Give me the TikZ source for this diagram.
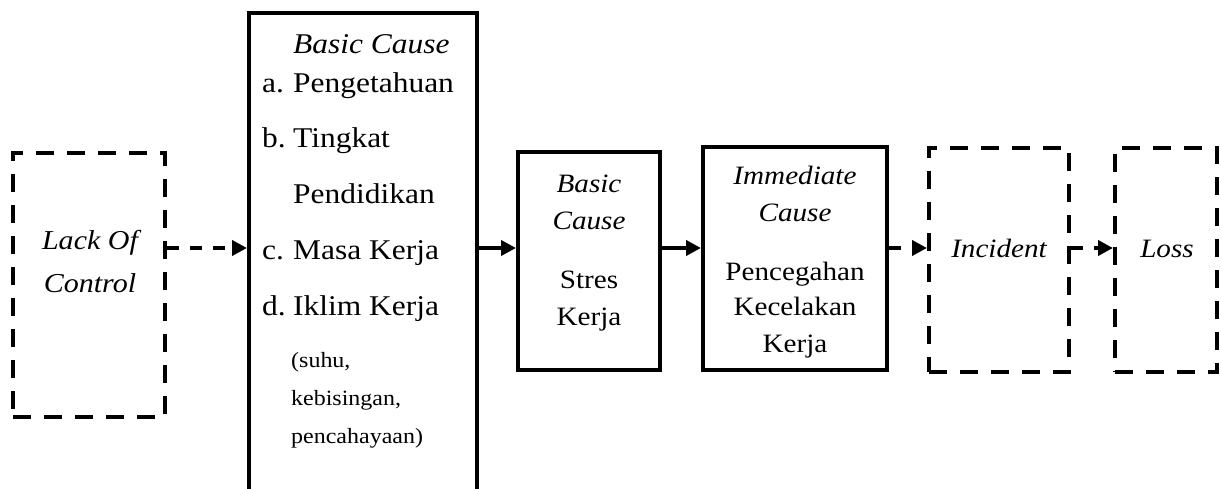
\documentclass[tikz,border=0pt]{standalone}
\usepackage{fontspec}
\setmainfont{Liberation Serif}[FakeStretch=1.1]
\usetikzlibrary{arrows.meta}
\begin{document}
\begin{tikzpicture}[x=1pt,y=-1pt,
  box/.style={draw, line width=4pt, inner sep=0pt, rectangle},
  dbox/.style={box, dash pattern=on 18pt off 13pt},
  txt/.style={anchor=base, inner sep=0pt, font=\fontsize{26.5}{32}\selectfont},
  itxt/.style={txt, font=\fontsize{26.5}{32}\selectfont\itshape},
  btxt/.style={anchor=base west, inner sep=0pt, font=\fontsize{28.6}{34}\selectfont},
  bitxt/.style={btxt, font=\fontsize{28.6}{34}\selectfont\itshape},
  small/.style={anchor=base west, inner sep=0pt, font=\fontsize{21.8}{26}\selectfont},
  ltxt/.style={itxt, font=\fontsize{27.3}{32}\selectfont\itshape},
  link/.style={line width=4pt, -{Triangle[length=15pt,width=15pt]}},
  dlink/.style={link, dash pattern=on 12pt off 11pt}]
\fill[white] (0,0) rectangle (1221,489);
\useasboundingbox (0,0) rectangle (1221,489);
\clip (0,0) rectangle (1221,489);

% boxes
\node[dbox, minimum width=152pt, minimum height=264pt] (lack) at (89,285) {};
\node[box, minimum width=228pt, minimum height=507pt] (basic) at (363,266.5) {};
\node[box, minimum width=142pt, minimum height=218pt] (stres) at (589,261) {};
\node[box, minimum width=184pt, minimum height=223pt] (imm) at (795,258.5) {};
\node[dbox, minimum width=140pt, minimum height=224pt] (inc) at (999,260) {};
\node[dbox, minimum width=102pt, minimum height=224pt] (loss) at (1166,260) {};

% level of the connectors
\coordinate (row) at (0,248);

% Lack Of Control
\node[ltxt] (lackA) at (90,250) {Lack Of};
\node[ltxt] (lackB) at (90,292) {Control};

% Basic Cause (factors)
\node[bitxt] (bcT) at (293,54) {Basic Cause};
\node[btxt] (ia) at (262,93) {a.};
\node[btxt] (ta) at (293,93) {Pengetahuan};
\node[btxt] (ib) at (262,148) {b.};
\node[btxt] (tb) at (293,148) {Tingkat};
\node[btxt] (tb2) at (293,204) {Pendidikan};
\node[btxt] (ic) at (262,259) {c.};
\node[btxt] (tc) at (293,259) {Masa Kerja};
\node[btxt] (id) at (262,315) {d.};
\node[btxt] (td) at (293,315) {Iklim Kerja};
\node[small] (sd1) at (291,367) {(suhu,};
\node[small] (sd2) at (291,405) {kebisingan,};
\node[small] (sd3) at (291,443) {pencahayaan)};

% Basic Cause: Stres Kerja
\node[itxt] (s1) at (589,193) {Basic};
\node[itxt] (s2) at (589,230) {Cause};
\node[txt] (s3) at (589,288) {Stres};
\node[txt] (s4) at (589,325) {Kerja};

% Immediate Cause
\node[itxt] (m1) at (795,185) {Immediate};
\node[itxt] (m2) at (795,222) {Cause};
\node[txt] (m3) at (795,280) {Pencegahan};
\node[txt] (m4) at (795,315) {Kecelakan};
\node[txt] (m5) at (795,352) {Kerja};

% Incident, Loss
\node[itxt] (incT) at (999,258) {Incident};
\node[itxt] (lossT) at (1167,258) {Loss};

% connectors
\draw[dlink] (lack.east |- row) -- (basic.west |- row);
\draw[link] (basic.east |- row) -- (stres.west |- row);
\draw[link] (stres.east |- row) -- (imm.west |- row);
\draw[dlink] (imm.east |- row) -- (inc.west |- row);
\draw[dlink] (inc.east |- row) -- (loss.west |- row);
\end{tikzpicture}
\end{document}
